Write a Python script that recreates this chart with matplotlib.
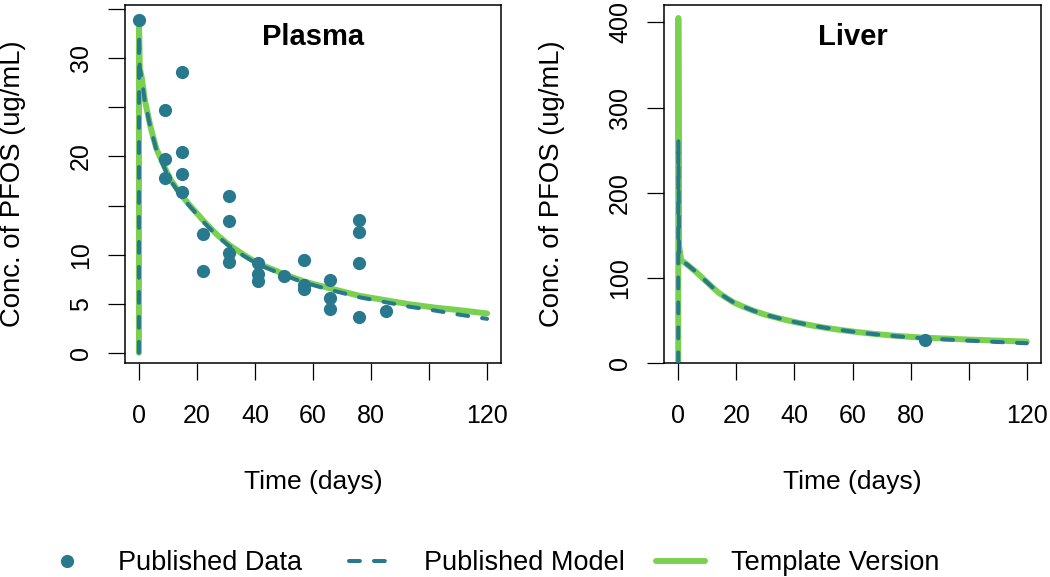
import matplotlib
matplotlib.use("Agg")
import matplotlib.pyplot as plt
from matplotlib.lines import Line2D

plt.rcParams["font.family"] = ["Liberation Sans", "DejaVu Sans"]

TEAL = "#28788E"
GREEN = "#7AD151"

# ---------------- data ----------------
plasma_obs_time = [0, 9, 9, 9, 15, 15, 15, 15, 22, 22, 31, 31, 31, 31,
                   41, 41, 41, 50, 57, 57, 57, 66, 66, 66, 76, 76, 76, 76, 85]
plasma_obs_conc = [33.9, 24.7, 19.7, 17.8, 28.6, 20.5, 18.25, 16.4, 12.1, 8.3,
                   16.0, 13.4, 10.2, 9.2, 9.1, 8.0, 7.3, 7.8, 9.4, 6.9, 6.5,
                   7.4, 5.6, 4.5, 13.5, 12.3, 9.1, 3.6, 4.2]

plasma_tmpl_time = [0, 0.03, 0.3, 1, 2, 4, 6, 9, 11, 14, 17, 20, 23, 27, 31, 36,
                    41, 46, 50, 57, 66, 76, 85, 93, 102, 110, 120]
plasma_tmpl_conc = [0, 33.8, 29.0, 28.0, 25.8, 23.0, 20.8, 18.8, 17.6, 16.3, 15.2,
                    14.2, 13.2, 12.0, 11.0, 10.0, 9.1, 8.5, 8.0, 7.25, 6.55, 5.8,
                    5.35, 4.95, 4.6, 4.35, 4.0]

plasma_pub_time = [0, 0.03, 0.3, 1, 2, 4, 6, 9, 11, 14, 17, 20, 23, 27, 31, 36,
                   41, 46, 50, 57, 66, 76, 85, 93, 102, 110, 120]
plasma_pub_conc = [0, 32.5, 29.0, 27.9, 25.7, 22.9, 20.7, 18.7, 17.5, 16.2, 15.1,
                   14.1, 13.1, 11.9, 10.9, 9.9, 9.0, 8.4, 7.9, 7.15, 6.4, 5.65,
                   5.15, 4.7, 4.3, 3.9, 3.45]

liver_obs_time = [85]
liver_obs_conc = [27.4]

liver_tmpl_time = [0, 0.03, 0.3, 1, 3, 6, 9, 12, 14, 16, 19, 22, 26, 30, 35,
                   40, 45, 50, 56, 62, 68, 74, 80, 85, 92, 100, 110, 120]
liver_tmpl_conc = [0, 405, 138, 121, 116, 107.5, 98, 88.5, 82.5, 78, 71.5, 67,
                   61.5, 57, 52.5, 48.5, 45, 42, 39, 36.5, 34.3, 32.5, 31, 30,
                   29, 27.8, 26.6, 25.5]

liver_pub_time = [0, 0.03, 0.3, 1, 3, 6, 9, 12, 14, 16, 19, 22, 26, 30, 35,
                  40, 45, 50, 56, 62, 68, 74, 80, 85, 92, 100, 110, 120]
liver_pub_conc = [0, 262, 132, 121, 116, 107.5, 98, 88.5, 82.5, 78, 71.5, 67,
                  61.5, 57, 52.5, 48.5, 45, 42, 39, 36.3, 34, 32.1, 30.4, 29.3,
                  28, 26.6, 25, 23.5]

x_ticks = [0, 20, 40, 60, 80, 100, 120]
x_tick_labels = ["0", "20", "40", "60", "80", "", "120"]
plasma_y_ticks = [0, 5, 10, 15, 20, 25, 30, 35]
plasma_y_tick_labels = ["0", "5", "10", "", "20", "", "30", ""]
liver_y_ticks = [0, 100, 200, 300, 400]
liver_y_tick_labels = ["0", "100", "200", "300", "400"]
panel_titles = ["Plasma", "Liver"]
x_label = "Time (days)"
y_label = "Conc. of PFOS (ug/mL)"
legend_labels = ["Published Data", "Published Model", "Template Version"]

# ---------------- figure ----------------
W, H = 1050, 577
fig = plt.figure(figsize=(W / 100, H / 100), dpi=100)

ax_h = 358.6
ax_bottom = (H - 363.3) / H
ax1 = fig.add_axes([125 / W, ax_bottom, 376 / W, ax_h / H])
ax2 = fig.add_axes([664.3 / W, ax_bottom, 376.4 / W, ax_h / H])

GREEN_LW = 4.3
DASH_LW = 2.9
DASHES = (2.7, 3.5)
MS = 9.5


def draw_panel(ax, tt, tc, pt, pc, ot, oc, yticks, ylabels, ylim, title):
    ax.plot(tt, tc, color=GREEN, lw=GREEN_LW, solid_capstyle="round",
            solid_joinstyle="round", zorder=2)
    ax.plot(pt, pc, color=TEAL, lw=DASH_LW, dashes=DASHES,
            dash_capstyle="round", dash_joinstyle="round", zorder=3)
    ax.plot(ot, oc, "o", color=TEAL, ms=MS, mew=0, zorder=4)
    ax.set_xlim(-4.8, 124.8)
    ax.set_ylim(*ylim)
    ax.set_xticks(x_ticks)
    ax.set_xticklabels(x_tick_labels, fontsize=18)
    ax.set_yticks(yticks)
    ax.set_yticklabels(ylabels, fontsize=18, rotation=90, va="center")
    ax.tick_params(axis="x", direction="out", length=12.3, width=0.9, pad=17)
    ax.tick_params(axis="y", direction="out", length=12.3, width=0.9, pad=11)
    for s in ax.spines.values():
        s.set_linewidth(1.1)
        s.set_color("black")
    ax.set_xlabel(x_label, fontsize=19, va="baseline")
    ax.xaxis.set_label_coords(0.5, -0.3505)
    ax.set_ylabel(y_label, fontsize=19.8, va="center")
    ax.yaxis.set_label_coords(-112 / 376, 0.5)
    ax.text(0.5, 0.8876, title, transform=ax.transAxes, ha="center",
            va="baseline", fontsize=21, fontweight="bold")


draw_panel(ax1, plasma_tmpl_time, plasma_tmpl_conc, plasma_pub_time,
           plasma_pub_conc, plasma_obs_time, plasma_obs_conc,
           plasma_y_ticks, plasma_y_tick_labels, (-1.08, 35.47), panel_titles[0])
draw_panel(ax2, liver_tmpl_time, liver_tmpl_conc, liver_pub_time,
           liver_pub_conc, liver_obs_time, liver_obs_conc,
           liver_y_ticks, liver_y_tick_labels, (0, 420.6), panel_titles[1])

# ---------------- legend ----------------
handles = [
    Line2D([], [], ls="none", marker="o", color=TEAL, ms=MS, mew=0),
    Line2D([], [], color=TEAL, lw=DASH_LW, dashes=DASHES, dash_capstyle="round"),
    Line2D([], [], color=GREEN, lw=GREEN_LW, solid_capstyle="round"),
]
leg_x = [42.5, 349, 656]
leg_fs = 19.5
for h, lab, x in zip(handles, legend_labels, leg_x):
    fig.legend(handles=[h], labels=[lab], loc="center left",
               bbox_to_anchor=(x / W, (H - 563) / H), frameon=False,
               borderpad=0, borderaxespad=0, handlelength=1.81,
               handletextpad=0.96, fontsize=leg_fs)

fig.savefig("out.png", dpi=100)
